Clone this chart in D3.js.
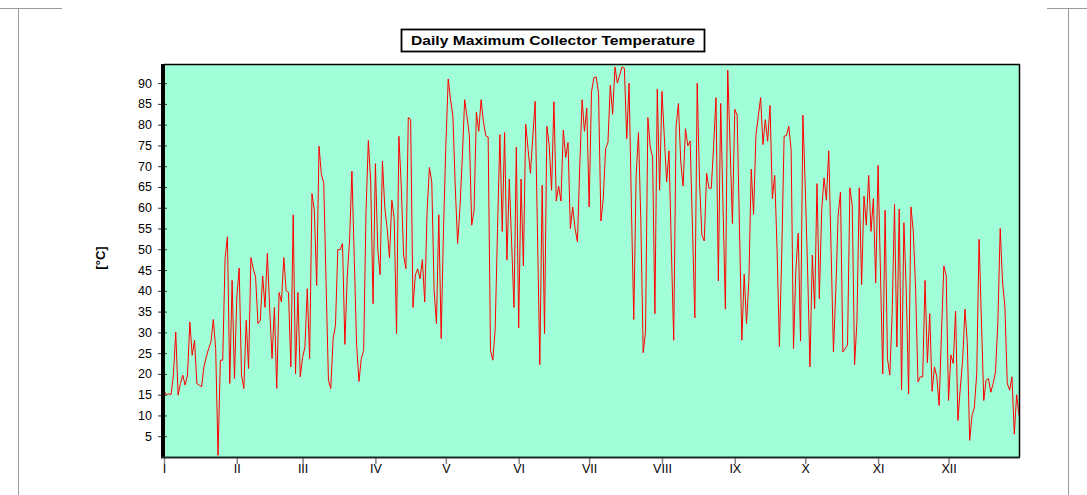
<!DOCTYPE html>
<html>
<head>
<meta charset="utf-8">
<script src="https://cdn.jsdelivr.net/npm/d3@7"></script>
<style>
  body { margin: 0; background: #fff; }
  svg { display: block; font-family: "Liberation Sans", Arial, sans-serif; }
</style>
</head>
<body>
<script>
// daily maximum collector temperature, one array per month (°C)
const jan = [16, 15, 15.2, 15, 19.7, 30.1, 14.9, 17.7, 19.7, 17.3, 19.7, 32.5, 24.5, 28.1, 17.7, 17.3,
  16.9, 21.7, 24.1, 26.1, 27.7, 33.1, 26.1, 0.4, 23.3, 23.3, 47.8, 53, 17.7, 42.5, 18.9];
const feb = [38.5, 45.5, 19.7, 16.5, 32.9, 21.3, 48, 45.3, 43.3, 32.1, 32.9, 43.6, 36, 49, 35.7, 23.7,
  36, 16.5, 39.6, 37.3, 48, 40, 39.6, 21.7, 58.3, 20, 39.6, 19.3];
const mar = [24, 26.5, 40.5, 23.7, 63.4, 59.4, 41.3, 74.8, 68, 66, 42, 18.5, 16.5, 28.5, 31.7, 49.9,
  49.9, 51.4, 27.1, 43.3, 52.2, 68.8, 48, 27, 18.2, 23.7, 25.7, 59, 76.2, 66.2, 36.9];
const apr = [70.6, 50, 43.9, 71.2, 60, 55, 47.9, 61.8, 57.4, 29.7, 77.2, 65.4, 48.6, 45.3, 81.7, 81.3,
  36, 43.8, 45.3, 42.9, 47.5, 37.3, 59, 69.7, 66.2, 40, 32.1, 58.3, 28.5, 55];
const may = [75, 91, 86, 82, 65, 51.4, 60, 72, 86, 81.9, 77.4, 55.8, 59.4, 83, 78.4, 86,
  80.7, 77.3, 77, 25.7, 23.3, 30.9, 55, 77.6, 54.3, 78.1, 47.4, 66.9, 51.4, 36, 74.6];
const jun = [31.1, 66.9, 46, 80.1, 74, 68.3, 77, 85.6, 54, 22.2, 65.4, 29.7, 79.6, 75, 64.2, 85.5,
  61.6, 65.2, 61.6, 78.7, 72.1, 75.7, 55, 60.2, 55, 51.8, 70, 86, 78.4, 84];
const jul = [60.2, 87.9, 91.3, 91.5, 87.5, 56.8, 62, 74.2, 75.7, 89.5, 82.5, 93.9, 90, 91.9, 93.9, 93.6,
  76.6, 90, 60, 33.1, 67.8, 78.1, 57, 25.1, 30.1, 81.7, 74.6, 72.2, 34.5, 88.5, 64.2];
const aug = [88, 77, 66.2, 73.7, 50, 28.1, 79.5, 85.1, 71, 65.2, 79, 74.9, 76.1, 55, 33.5, 90,
  66, 53.4, 52, 68.3, 64.7, 64.7, 75, 86.5, 42.4, 85.1, 60, 35.6, 93.1, 75, 56.2];
const sep = [83.7, 82.3, 55, 28.1, 44, 32.1, 42.5, 69.3, 58.4, 77.4, 82, 86.5, 75.2, 81.2, 76, 84.6,
  62.2, 67.8, 50, 26.6, 49, 77.2, 77.4, 79.6, 73.8, 26.1, 45, 53.9, 27.9, 82.3];
const oct = [65, 45, 21.7, 48.6, 35.7, 65.8, 38.1, 59.4, 67.2, 61.8, 73.7, 50, 25.3, 40, 58.2, 63.8,
  25.3, 26.1, 26.9, 64.8, 60.6, 22.2, 32.5, 64.8, 41.5, 62.8, 55.8, 67.8, 54.3, 62.2, 41.9];
const nov = [70.2, 45, 20, 59.4, 23.7, 19.7, 34.5, 60.8, 26.5, 59.7, 16.2, 56.4, 40, 15.2, 60.2, 54.2,
  40, 18.1, 19.3, 19.3, 42.5, 22.7, 34.5, 15.8, 21.7, 19.3, 12.4, 30, 46, 43.7];
const dec = [13.6, 24.6, 22.5, 35.1, 8.8, 16.5, 23.3, 35.6, 27.3, 4, 10, 12, 20, 52.4, 33, 13.6,
  18.5, 18.9, 15.6, 17.7, 20.5, 32.5, 55, 42.1, 36.1, 17.7, 16.1, 19.3, 5.5, 15, 10];

const monthLabels = ['I', 'II', 'III', 'IV', 'V', 'VI', 'VII', 'VIII', 'IX', 'X', 'XI', 'XII'];
const yTicks = [5, 10, 15, 20, 25, 30, 35, 40, 45, 50, 55, 60, 65, 70, 75, 80, 85, 90];
const title = 'Daily Maximum Collector Temperature';
const yLabel = '[°C]';

const months = [jan, feb, mar, apr, may, jun, jul, aug, sep, oct, nov, dec];
const values = months.flat();
const monthStart = [];
let acc = 0;
months.forEach(m => { monthStart.push(acc); acc += m.length; });

const width = 1087, height = 495;
const plotLeft = 164, plotRight = 1019, plotTop = 64, plotBottom = 457;

const svg = d3.select('body').append('svg')
  .attr('width', width)
  .attr('height', height);

// outer frame pieces
const frame = svg.append('g').attr('stroke', '#9a9a9a').attr('stroke-width', 1);
frame.append('line').attr('x1', 0).attr('x2', 62).attr('y1', 8.5).attr('y2', 8.5);
frame.append('line').attr('x1', 1047).attr('x2', width).attr('y1', 8.5).attr('y2', 8.5);
frame.append('line').attr('x1', 18.5).attr('x2', 18.5).attr('y1', 8).attr('y2', height);
frame.append('line').attr('x1', 1068.5).attr('x2', 1068.5).attr('y1', 8).attr('y2', height);

const x = d3.scaleLinear().domain([0, values.length - 1]).range([plotLeft, plotRight]);
const y = d3.scaleLinear().domain([0, 94.6]).range([plotBottom, plotTop]);

// plot background
svg.append('rect')
  .attr('x', plotLeft).attr('y', plotTop)
  .attr('width', plotRight - plotLeft).attr('height', plotBottom - plotTop)
  .attr('fill', '#a0ffd8');

// data line
const line = d3.line().x((d, i) => x(i)).y(d => y(d));
svg.append('path')
  .datum(values)
  .attr('fill', 'none')
  .attr('stroke', '#ff0000')
  .attr('stroke-width', 1)
  .attr('d', line);

// frame of plot
svg.append('line').attr('x1', plotLeft).attr('x2', plotRight + 1).attr('y1', plotTop + 0.5).attr('y2', plotTop + 0.5)
  .attr('stroke', '#000').attr('stroke-width', 1.5);
svg.append('line').attr('x1', plotRight + 0.5).attr('x2', plotRight + 0.5).attr('y1', plotTop).attr('y2', plotBottom)
  .attr('stroke', '#000').attr('stroke-width', 1.5);

// y axis
const yAxis = d3.axisLeft(y).tickValues(yTicks).tickSize(4).tickPadding(4);
const gy = svg.append('g').attr('transform', `translate(${plotLeft - 1},0)`).call(yAxis);
gy.select('.domain').remove();
gy.selectAll('.tick line').attr('stroke', '#333').attr('x2', -5).attr('x1', 4);
gy.selectAll('.tick text')
  .attr('font-size', 12.5)
  .attr('font-family', '"Liberation Sans", Arial, sans-serif')
  .attr('fill', '#000')
  .attr('x', -11);
svg.append('line').attr('x1', plotLeft - 1).attr('x2', plotLeft - 1).attr('y1', plotTop).attr('y2', plotBottom + 1)
  .attr('stroke', '#000').attr('stroke-width', 4);

// x axis
const xAxis = d3.axisBottom(x).tickValues(monthStart)
  .tickFormat((d, i) => monthLabels[i]).tickSize(0).tickPadding(7);
const gx = svg.append('g').attr('transform', `translate(0,${plotBottom})`).call(xAxis);
gx.select('.domain').remove();
gx.selectAll('.tick text')
  .attr('font-size', 12.5)
  .attr('font-family', '"Liberation Sans", Arial, sans-serif')
  .attr('fill', '#000');
gx.selectAll('.tick').append('line')
  .attr('y1', 1).attr('y2', 7)
  .attr('stroke', '#888').attr('stroke-width', 1.5);
svg.append('line').attr('x1', plotLeft - 3).attr('x2', plotRight + 1).attr('y1', plotBottom + 0.5).attr('y2', plotBottom + 0.5)
  .attr('stroke', '#1c2a24').attr('stroke-width', 2);

// y label
svg.append('text')
  .attr('transform', 'translate(105,258) rotate(-90)')
  .attr('text-anchor', 'middle')
  .attr('font-size', 13)
  .attr('font-weight', 'bold')
  .text(yLabel);

// title box
svg.append('rect')
  .attr('x', 401.5).attr('y', 29.5).attr('width', 303).attr('height', 22)
  .attr('fill', '#fff').attr('stroke', '#000').attr('stroke-width', 1.8);
svg.append('text')
  .attr('x', 553).attr('y', 45)
  .attr('text-anchor', 'middle')
  .attr('font-size', 13.5)
  .attr('font-weight', 'bold')
  .attr('textLength', 284)
  .attr('lengthAdjust', 'spacingAndGlyphs')
  .text(title);
</script>
</body>
</html>
